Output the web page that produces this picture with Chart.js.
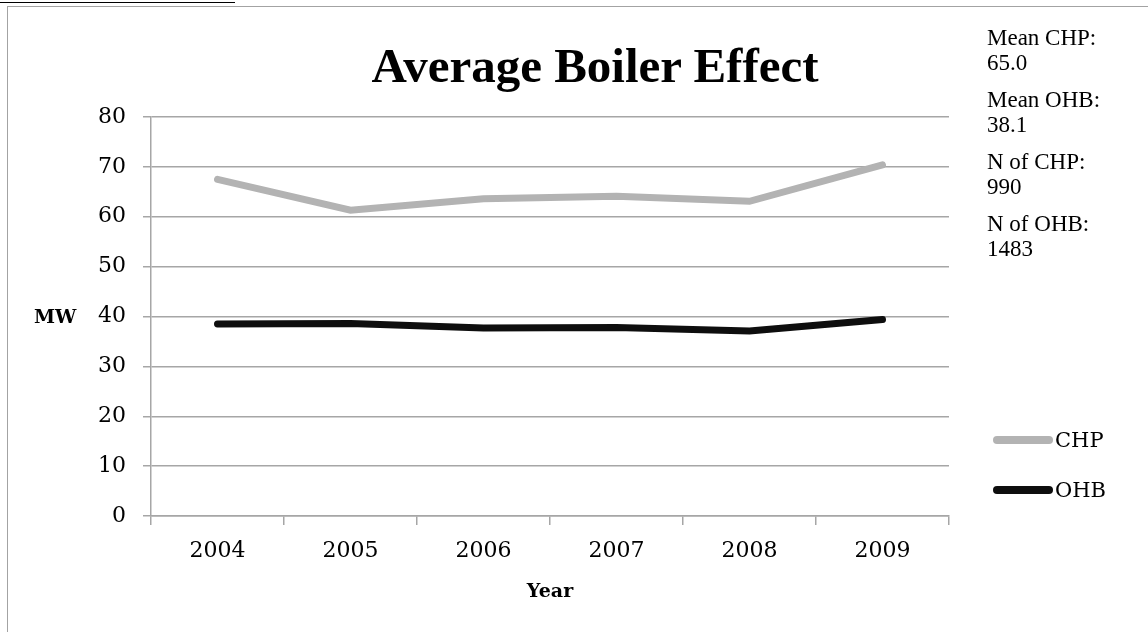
<!DOCTYPE html>
<html>
<head>
<meta charset="utf-8">
<script src="https://cdn.jsdelivr.net/npm/chart.js@4/dist/chart.umd.min.js"></script>
<style>
  html, body { margin: 0; padding: 0; background: #fff; }
  body { width: 1148px; height: 632px; position: relative; overflow: hidden; }
  #topRule { position: absolute; left: 0; top: 2px; width: 235px; height: 0; border-top: 1.5px solid #000; }
  #frame { position: absolute; left: 7px; top: 6px; width: 1160px; height: 650px;
           border: 1.5px solid #a3a3a3; box-sizing: border-box; }
  canvas#chart { position: absolute; left: 0; top: 0; }
  .title { position: absolute; left: 360px; width: 470px; top: 37px; text-align: center;
           font: bold 49px "Liberation Serif", serif; color: #000; white-space: nowrap; }
  .axisTitle { position: absolute; font: bold 19px "DejaVu Serif", serif; color: #000; white-space: nowrap; }
  #notes { position: absolute; left: 987px; top: 25px; font: 23px/25px "Liberation Serif", serif; color: #000; }
  #notes p { margin: 0 0 12px 0; }
  #legend { position: absolute; left: 993px; top: 426px; font: 21px "DejaVu Serif", serif; color: #000; }
  #legend .item { display: flex; align-items: center; height: 28px; margin-bottom: 22px; }
  #legend .swatch { width: 60px; height: 8px; border-radius: 4px; margin-right: 2px; }
</style>
</head>
<body>
<div id="topRule"></div>
<div id="frame"></div>
<canvas id="chart" width="1148" height="632"></canvas>
<div class="title">Average Boiler Effect</div>
<div class="axisTitle" style="left:34px; top:305px;">MW</div>
<div class="axisTitle" style="left:550px; top:579px; transform:translateX(-50%);">Year</div>
<div id="notes"></div>
<div id="legend"></div>
<script>
// Years on the category axis
const years = ['2004', '2005', '2006', '2007', '2008', '2009'];
// Average boiler effect per year, MW
const chpValues = [67.5, 61.3, 63.6, 64.1, 63.1, 70.4];
const ohbValues = [38.5, 38.6, 37.7, 37.8, 37.1, 39.4];
// Summary statistics shown beside the plot
const notes = [
  ['Mean CHP:', '65.0'],
  ['Mean OHB:', '38.1'],
  ['N of CHP:', '990'],
  ['N of OHB:', '1483']
];
// Value axis range
const yMin = 0, yMax = 80, yStep = 10;

const gridGray = '#a6a6a6';
const tickFont = { family: 'DejaVu Serif', size: 22 };

const chart = new Chart(document.getElementById('chart'), {
  type: 'line',
  data: {
    labels: years,
    datasets: [
      { label: 'CHP', data: chpValues, borderColor: '#b3b3b3', backgroundColor: '#b3b3b3',
        borderWidth: 7, borderCapStyle: 'round', borderJoinStyle: 'miter', pointRadius: 0, tension: 0 },
      { label: 'OHB', data: ohbValues, borderColor: '#0e0e0e', backgroundColor: '#0e0e0e',
        borderWidth: 7, borderCapStyle: 'round', borderJoinStyle: 'miter', pointRadius: 0, tension: 0 }
    ]
  },
  options: {
    responsive: false,
    animation: false,
    events: [],
    layout: { padding: { left: 60, top: 117, right: 199, bottom: 66 } },
    plugins: { legend: { display: false }, title: { display: false }, tooltip: { enabled: false } },
    scales: {
      x: {
        offset: true,
        grid: { offset: true, drawOnChartArea: false, drawTicks: true, tickLength: 9,
                color: gridGray, lineWidth: 1.5 },
        border: { display: true, color: gridGray, width: 1.5 },
        ticks: { color: '#000', font: tickFont, padding: 13, maxRotation: 0 },
        afterFit: s => { s.height = 50; }
      },
      y: {
        min: yMin, max: yMax,
        grid: { color: gridGray, lineWidth: 1.5, tickLength: 8 },
        border: { display: true, color: gridGray, width: 1.5 },
        ticks: { stepSize: yStep, color: '#000', font: tickFont, padding: 17 },
        afterFit: s => { s.width = 91; }
      }
    }
  }
});

// Summary block
const notesEl = document.getElementById('notes');
notes.forEach(([label, value]) => {
  const p = document.createElement('p');
  p.innerHTML = label + '<br>' + value;
  notesEl.appendChild(p);
});

// Legend built from the datasets
const legendEl = document.getElementById('legend');
chart.data.datasets.forEach(ds => {
  const item = document.createElement('div');
  item.className = 'item';
  const sw = document.createElement('span');
  sw.className = 'swatch';
  sw.style.background = ds.borderColor;
  const tx = document.createElement('span');
  tx.textContent = ds.label;
  item.appendChild(sw);
  item.appendChild(tx);
  legendEl.appendChild(item);
});
</script>
</body>
</html>
